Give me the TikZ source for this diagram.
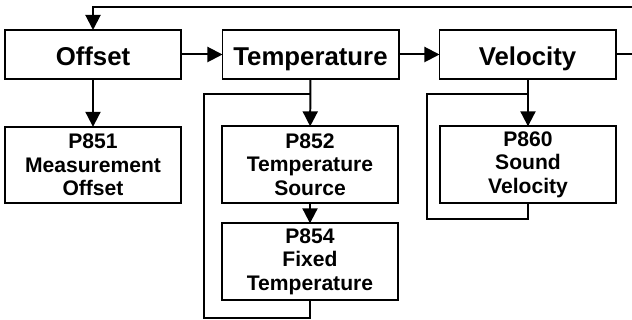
\documentclass[tikz,border=0pt]{standalone}
\usepackage{fontspec}
\setmainfont{Liberation Sans}
\usetikzlibrary{arrows.meta}

\tikzset{
	mainbox/.style={draw, line width=1.7pt, inner sep=0pt, outer sep=0pt,
		minimum width=5.28cm, minimum height=1.47cm,
		text height=18.4pt, text depth=0pt,
		font=\fontsize{22}{24}\selectfont\bfseries},
	parbox/.style={draw, line width=1.7pt, inner sep=0pt, outer sep=0pt,
		minimum width=5.28cm, minimum height=2.29cm, align=center,
		font=\fontsize{18}{20}\selectfont\bfseries},
	link/.style={line width=1.7pt}
}

\begin{document}
\begin{tikzpicture}[x=0.03cm, y=-0.03cm, >={Triangle[length=4.5mm, width=4.5mm]}]
			\useasboundingbox (0,0) rectangle (632,320);
			% top row
			\node[mainbox] (offset) at (93,54.5) {Offset};
			\node[mainbox] (temp) at (310.5,54.5) {Temperature};
			\node[mainbox] (velo) at (527.5,54.5) {Velocity};
			% parameters
			\node[parbox] (p851) at (93,165) {P851\\Measurement\\Offset};
			\node[parbox] (p852) at (310,164.5) {P852\\Temperature\\Source};
			\node[parbox] (p854) at (310,261.5) {P854\\Fixed\\Temperature};
			\node[parbox] (p860) at (528,164.5) {P860\\Sound\\Velocity};
			% free ends
			\coordinate (backin) at (632,7);
			\coordinate (out) at (632,54.5);
			\coordinate (tloop) at (204,318);
			\coordinate (tjoin) at (310,94);
			\coordinate (vloop) at (427,219);
			\coordinate (vjoin) at (528,94);
			\draw[link, ->] (backin) -| (offset.north);
			\draw[link, ->] (offset) -- (temp);
			\draw[link, ->] (temp) -- (velo);
			\draw[link] (velo) -- (out);
			\draw[link, ->] (offset) -- (p851);
			\draw[link, ->] (temp) -- (p852);
			\draw[link, ->] (p852) -- (p854);
			\draw[link, ->] (velo.south -| p860.north) -- (p860);
			\draw[link] (p854.south) |- (tloop) |- (tjoin);
			\draw[link] (p860.south) |- (vloop) |- (vjoin);
		\end{tikzpicture}
\end{document}
